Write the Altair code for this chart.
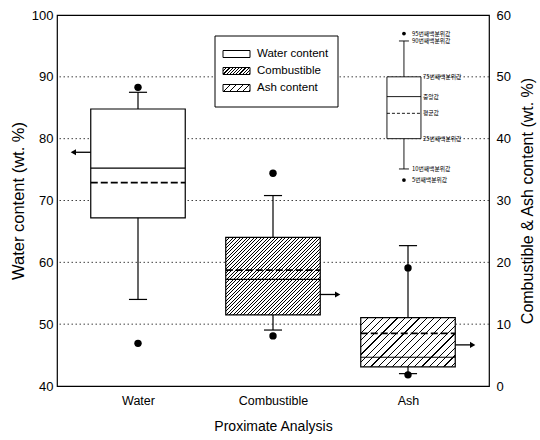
import json
import math
import altair as alt
import pandas as pd

# ---------------- data ----------------
categories = ["Water", "Combustible", "Ash"]
q1 = [67.2, 11.5, 3.1]
q3 = [84.8, 24.05, 11.05]
median = [75.25, 17.25, 4.65]
mean = [72.9, 18.75, 8.5]
whisker_lo = [54.0, 9.05, 2.0]
whisker_hi = [87.5, 30.8, 22.7]
outlier_lo = [46.9, 8.1, 1.8]
outlier_hi = [88.3, 34.4, 19.1]
arrow_y = [77.8, 14.8, 6.65]
arrow_to = ["left", "right", "right"]

legend_labels = ["Water content", "Combustible", "Ash content"]

inset_labels = ["95번째백분위값", "90번째백분위값", "75번째백분위값", "중앙값",
                "평균값", "25번째백분위값", "10번째백분위값", "5번째백분위값"]
inset_values = [57.0, 55.8, 50.0, 46.8, 44.1, 40.0, 35.1, 33.3]
inset_kind = ["point", "cap", "box", "median", "mean", "box", "cap", "point"]

y_left_ticks = [40, 50, 60, 70, 80, 90, 100]
y_right_ticks = [0, 10, 20, 30, 40, 50, 60]

# ---------------- layout / style ----------------
W, H = 432, 371
X_DOMAIN = [0.4, 3.6]
YL_DOMAIN = [40, 100]
YR_DOMAIN = [0, 60]
PX_X = W / (X_DOMAIN[1] - X_DOMAIN[0])
PX_Y = H / (YR_DOMAIN[1] - YR_DOMAIN[0])
BOX_HALF = 0.35
CAP_HALF = 0.067
ARROW_LEN = 0.155
HEAD_BACK = 0.026
INSET_X = 2.97
INSET_HALF = 0.126
INSET_CAP = 0.037
FONT = "Liberation Sans"
KFONT = "Noto Sans CJK KR"


def hatch(w, h, spacing, thick):
    """Diagonal '/' stripes as a linear gradient (bbox units)."""
    k = (w + h) / (w * w + h * h)
    n = (w + h) / spacing
    t = thick * math.sqrt(2) / (w + h)
    stops = []
    i = 0
    while i / n < 1:
        o = i / n
        e = min(o + t, 1.0)
        nxt = min((i + 1) / n, 1.0)
        stops += [{"offset": o, "color": "black"}, {"offset": e, "color": "black"},
                  {"offset": e, "color": "white"}, {"offset": nxt, "color": "white"}]
        i += 1
    return {"gradient": "linear", "x1": 0, "y1": 0, "x2": k * w, "y2": k * h, "stops": stops}


df = pd.DataFrame({
    "cat": categories,
    "pos": [i + 1 for i in range(len(categories))],
    "q1": q1, "q3": q3, "median": median, "mean": mean,
    "whisker_lo": whisker_lo, "whisker_hi": whisker_hi,
    "outlier_lo": outlier_lo, "outlier_hi": outlier_hi,
    "arrow_y": arrow_y, "arrow_to": arrow_to,
})
df_w = df[df["cat"] == categories[0]]
df_r = df[df["cat"] != categories[0]]
df_grid = pd.DataFrame({"v": y_left_ticks[1:-1]})
df_inset = pd.DataFrame({"label": inset_labels, "value": inset_values, "kind": inset_kind})
df_leg = pd.DataFrame({"label": legend_labels, "i": list(range(len(legend_labels)))})

box_w_px = 2 * BOX_HALF * PX_X
comb = df_r.iloc[0]
ash = df_r.iloc[1]
fill_comb = hatch(box_w_px, (comb["q3"] - comb["q1"]) * PX_Y, 3.5, 1.0)
fill_ash = hatch(box_w_px, (ash["q3"] - ash["q1"]) * PX_Y, 7.3, 0.9)

XS = alt.Scale(domain=X_DOMAIN, nice=False, zero=False)
XAX = alt.Axis(values=[1, 2, 3],
               labelExpr=json.dumps(categories) + "[datum.value - 1]",
               title="Proximate Analysis", grid=False, ticks=False, domain=False,
               labelFontSize=12.5, titleFontSize=14, labelPadding=8, titlePadding=13)
YLS = alt.Scale(domain=YL_DOMAIN, nice=False, zero=False)
YLAX = alt.Axis(values=y_left_ticks, orient="left", grid=False, ticks=False, domain=False,
                labelFontSize=13, labelPadding=4, title="Water content (wt. %)",
                titleFontSize=16.5, titlePadding=5)
YRS = alt.Scale(domain=YR_DOMAIN, nice=False, zero=False)
YRAX = alt.Axis(values=y_right_ticks, orient="right", grid=False, ticks=False, domain=False,
                labelFontSize=13, labelPadding=7, title="Combustible & Ash content (wt. %)",
                titleFontSize=16, titlePadding=9, titleAngle=270, titleBaseline="top")


def XQ(f):
    return alt.X(f, type="quantitative", scale=XS, axis=XAX)


def YL(f):
    return alt.Y(f, type="quantitative", scale=YLS, axis=YLAX)


def YR(f):
    return alt.Y(f, type="quantitative", scale=YRS, axis=YRAX)


def prep(c):
    return (c.transform_calculate(x0=f"datum.pos - {BOX_HALF}")
             .transform_calculate(x1=f"datum.pos + {BOX_HALF}")
             .transform_calculate(c0=f"datum.pos - {CAP_HALF}")
             .transform_calculate(c1=f"datum.pos + {CAP_HALF}")
             .transform_calculate(dir="datum.arrow_to == 'left' ? -1 : 1")
             .transform_calculate(a0=f"datum.pos + datum.dir * {BOX_HALF}")
             .transform_calculate(ah=f"datum.pos + datum.dir * {BOX_HALF + ARROW_LEN - HEAD_BACK}")
             .transform_calculate(head="datum.dir < 0 ? 'triangle-left' : 'triangle-right'"))


def box_layers(base, Y, fills):
    out = [base.mark_rule(color="black", strokeWidth=1.2).encode(x=XQ("pos"), y=Y("whisker_lo"), y2="whisker_hi")]
    for cat, fill in fills:
        out.append(base.transform_filter(alt.datum.cat == cat)
                   .mark_rect(fill=fill, stroke="black", strokeWidth=1.2)
                   .encode(x=XQ("x0"), x2="x1", y=Y("q1"), y2="q3"))
    out += [
        base.mark_rule(color="black", strokeWidth=1.2).encode(x=XQ("x0"), x2="x1", y=Y("median")),
        base.mark_rule(color="black", strokeWidth=1.8, strokeDash=[7, 3]).encode(x=XQ("x0"), x2="x1", y=Y("mean")),
        base.mark_rule(color="black", strokeWidth=1.2).encode(x=XQ("c0"), x2="c1", y=Y("whisker_hi")),
        base.mark_rule(color="black", strokeWidth=1.2).encode(x=XQ("c0"), x2="c1", y=Y("whisker_lo")),
        base.mark_circle(size=55, color="black", opacity=1).encode(x=XQ("pos"), y=Y("outlier_hi")),
        base.mark_circle(size=55, color="black", opacity=1).encode(x=XQ("pos"), y=Y("outlier_lo")),
        base.mark_rule(color="black", strokeWidth=1.3).encode(x=XQ("a0"), x2="ah", y=Y("arrow_y")),
        base.mark_point(filled=True, color="black", size=38, opacity=1).encode(
            x=XQ("ah"), y=Y("arrow_y"), shape=alt.Shape("head:N", scale=None)),
    ]
    return out


grid = alt.Chart(df_grid).mark_rule(color="#404040", strokeWidth=1, strokeDash=[1.5, 2.5]).encode(y=YL("v"))
water_group = alt.layer(grid, *box_layers(prep(alt.Chart(df_w)), YL, [(categories[0], "white")]))

# inset schematic
ins = alt.Chart(df_inset)
inset_layers = [
    ins.transform_filter("datum.kind == 'box' || datum.kind == 'cap'")
       .transform_aggregate(lo="min(value)", hi="max(value)")
       .transform_calculate(x=f"{INSET_X}")
       .mark_rule(color="black", strokeWidth=0.9).encode(x=XQ("x"), y=YR("lo"), y2="hi"),
    ins.transform_filter("datum.kind == 'box'")
       .transform_aggregate(lo="min(value)", hi="max(value)")
       .transform_calculate(x0=f"{INSET_X - INSET_HALF}").transform_calculate(x1=f"{INSET_X + INSET_HALF}")
       .mark_rect(fill="white", stroke="black", strokeWidth=0.9).encode(x=XQ("x0"), x2="x1", y=YR("lo"), y2="hi"),
    ins.transform_filter("datum.kind == 'cap'")
       .transform_calculate(x0=f"{INSET_X - INSET_CAP}").transform_calculate(x1=f"{INSET_X + INSET_CAP}")
       .mark_rule(color="black", strokeWidth=0.9).encode(x=XQ("x0"), x2="x1", y=YR("value")),
    ins.transform_filter("datum.kind == 'median'")
       .transform_calculate(x0=f"{INSET_X - INSET_HALF}").transform_calculate(x1=f"{INSET_X + INSET_HALF}")
       .mark_rule(color="black", strokeWidth=0.9).encode(x=XQ("x0"), x2="x1", y=YR("value")),
    ins.transform_filter("datum.kind == 'mean'")
       .transform_calculate(x0=f"{INSET_X - INSET_HALF}").transform_calculate(x1=f"{INSET_X + INSET_HALF}")
       .mark_rule(color="black", strokeWidth=0.9, strokeDash=[3, 2]).encode(x=XQ("x0"), x2="x1", y=YR("value")),
    ins.transform_filter("datum.kind == 'point'").transform_calculate(x=f"{INSET_X}")
       .mark_circle(size=14, color="black", opacity=1).encode(x=XQ("x"), y=YR("value")),
    ins.transform_filter("datum.kind == 'point' || datum.kind == 'cap'").transform_calculate(x=f"{INSET_X}")
       .mark_text(align="left", baseline="middle", dx=8, font=KFONT, fontSize=5.8, color="black")
       .encode(x=XQ("x"), y=YR("value"), text="label:N"),
    ins.transform_filter("datum.kind != 'point' && datum.kind != 'cap'").transform_calculate(x=f"{INSET_X}")
       .mark_text(align="left", baseline="middle", dx=19, font=KFONT, fontSize=5.8, color="black")
       .encode(x=XQ("x"), y=YR("value"), text="label:N"),
]

right_group = alt.layer(
    *box_layers(prep(alt.Chart(df_r)), YR, [(categories[1], fill_comb), (categories[2], fill_ash)]),
    *inset_layers,
)

# legend (drawn box)
LEG_X0, LEG_X1, LEG_Y0, LEG_Y1 = 158, 281, 21, 92
ROW0, ROW_DY = 39, 17
SW_X0, SW_X1, SW_H = 166, 193, 7
TXT_X = 200
leg_frame = alt.Chart(pd.DataFrame({"k": [0]})).mark_rect(fill="white", stroke="black", strokeWidth=1).encode(
    x=alt.value(LEG_X0), x2=alt.value(LEG_X1), y=alt.value(LEG_Y0), y2=alt.value(LEG_Y1))
sw_fills = ["white",
            hatch(SW_X1 - SW_X0, SW_H, 3.2, 0.9),
            hatch(SW_X1 - SW_X0, SW_H, 6.5, 0.8)]
swatches = []
for i, f in enumerate(sw_fills):
    cy = ROW0 + ROW_DY * i
    swatches.append(alt.Chart(pd.DataFrame({"k": [i]})).mark_rect(fill=f, stroke="black", strokeWidth=1).encode(
        x=alt.value(SW_X0), x2=alt.value(SW_X1), y=alt.value(cy - SW_H / 2), y2=alt.value(cy + SW_H / 2)))
leg_text = (alt.Chart(df_leg)
            .transform_calculate(py=f"{ROW0} + {ROW_DY} * datum.i")
            .mark_text(align="left", baseline="middle", font=FONT, fontSize=11.5, color="black")
            .encode(x=alt.value(TXT_X), y=alt.Y("py:Q", scale=None), text="label:N"))
legend_group = alt.layer(leg_frame, *swatches, leg_text)

chart = (alt.layer(water_group, right_group, legend_group)
         .resolve_scale(y="independent")
         .properties(width=W, height=H,
                     autosize=alt.AutoSizeParams(type="none"),
                     padding={"left": 57, "top": 15, "right": 540 - 57 - W, "bottom": 440 - 15 - H})
         .configure_view(stroke="black", strokeWidth=1.2)
         .configure_axis(labelFont=FONT, titleFont=FONT, labelColor="black", titleColor="black",
                         titleFontWeight="normal")
         .configure_text(font=FONT))

chart.save("out.html", embed_options={"renderer": "svg", "actions": False})
